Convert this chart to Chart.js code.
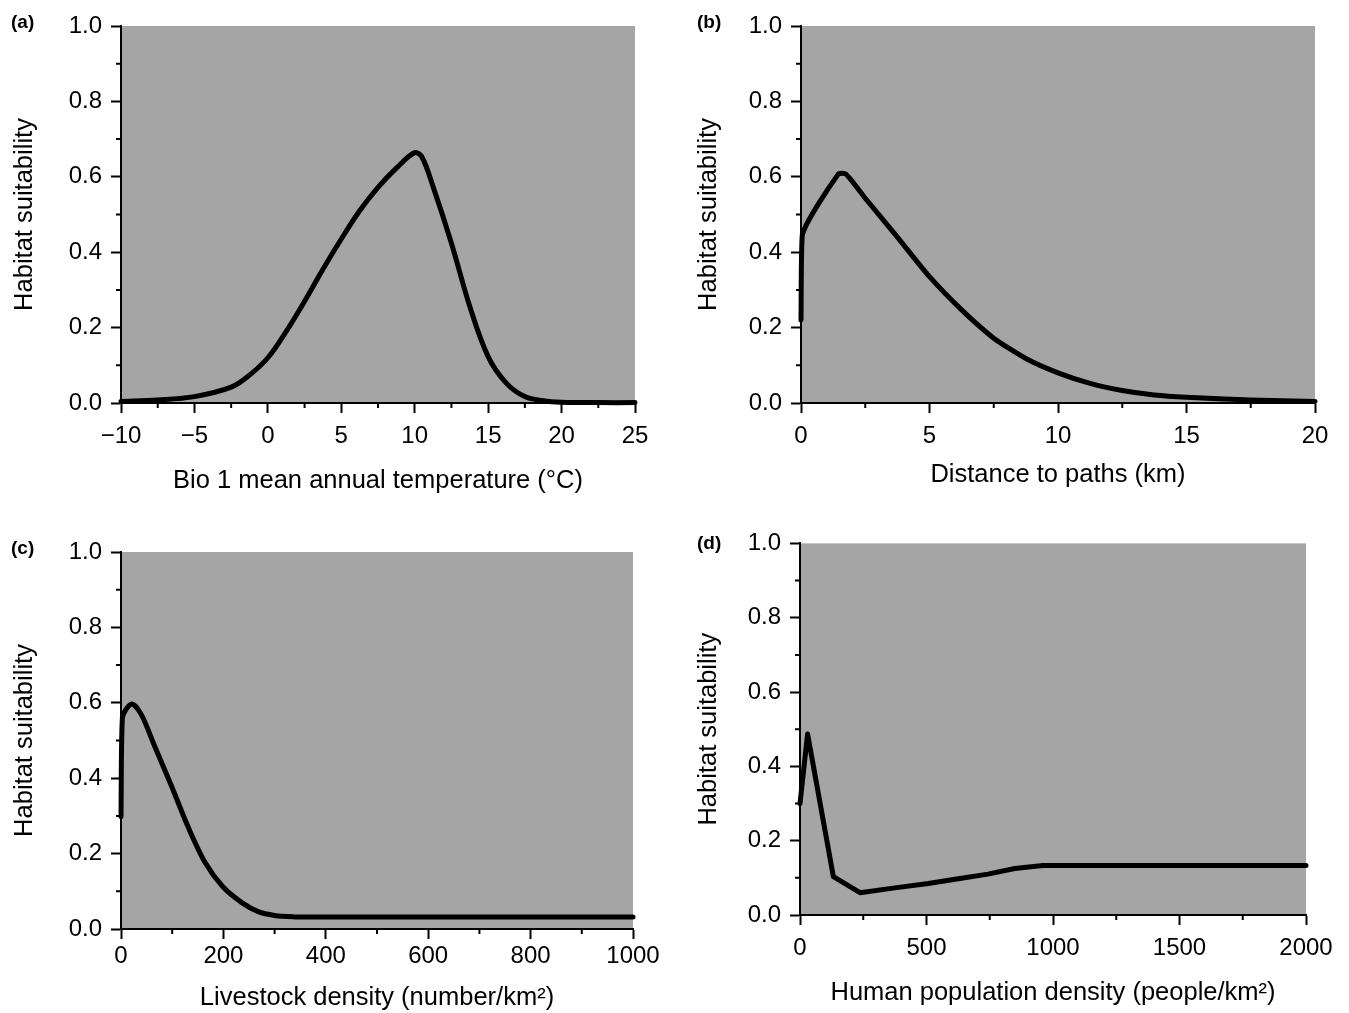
<!DOCTYPE html>
<html>
<head>
<meta charset="utf-8">
<script src="https://cdn.jsdelivr.net/npm/chart.js@4.4.0/dist/chart.umd.min.js"></script>
<style>
    body { margin: 0; background: #fff; width: 1349px; height: 1013px; position: relative; overflow: hidden; }
    canvas { position: absolute; }
</style>
</head>
<body>
<canvas id="chartA" width="675" height="520" style="left:0;top:0"></canvas>
<canvas id="chartB" width="665" height="520" style="left:684px;top:0"></canvas>
<canvas id="chartC" width="675" height="493" style="left:0;top:520px"></canvas>
<canvas id="chartD" width="665" height="493" style="left:684px;top:520px"></canvas>
<script>
// ===== DATA =====
const tempX = [-10, -7.5, -5, -2.5, -1.25, 0, 1.25, 2.5, 3.75, 5, 6.25, 7.5, 8.75, 10, 10.5, 11.25, 12.5, 13.75, 15, 16.25, 17.5, 18.75, 20, 22.5, 25];
const tempY = [0.004, 0.008, 0.017, 0.042, 0.074, 0.12, 0.19, 0.27, 0.355, 0.435, 0.51, 0.572, 0.623, 0.664, 0.652, 0.574, 0.424, 0.256, 0.123, 0.052, 0.017, 0.006, 0.002, 0.001, 0.001];

const pathX = [0, 0.05, 1.45, 1.75, 2.5, 3.75, 5, 6.25, 7.5, 8.75, 10, 11.25, 12.5, 13.75, 15, 17.5, 20];
const pathY = [0.22, 0.446, 0.607, 0.607, 0.543, 0.44, 0.335, 0.247, 0.172, 0.118, 0.08, 0.052, 0.033, 0.021, 0.015, 0.008, 0.004];

const livestockX = [0, 2.6, 20.8, 40, 66, 99, 131, 164, 199, 236, 268, 300, 340, 360, 1000];
const livestockY = [0.298, 0.559, 0.597, 0.568, 0.484, 0.378, 0.271, 0.177, 0.112, 0.07, 0.046, 0.036, 0.032, 0.032, 0.032];

const humanX = [0, 30, 132, 237, 375, 507, 638, 743, 849, 960, 2000];
const humanY = [0.3, 0.487, 0.103, 0.06, 0.073, 0.085, 0.099, 0.11, 0.125, 0.133, 0.133];

const suitTicks = [0, 0.2, 0.4, 0.6, 0.8, 1.0];
const suitMinor = [0.1, 0.3, 0.5, 0.7, 0.9];
const tempTicks = [-10, -5, 0, 5, 10, 15, 20, 25];
const tempMinor = [-7.5, -2.5, 2.5, 7.5, 12.5, 17.5, 22.5];
const pathTicks = [0, 5, 10, 15, 20];
const pathMinor = [2.5, 7.5, 12.5, 17.5];
const livestockTicks = [0, 200, 400, 600, 800, 1000];
const livestockMinor = [100, 300, 500, 700, 900];
const humanTicks = [0, 500, 1000, 1500, 2000];
const humanMinor = [250, 750, 1250, 1750];

const FONT = "'Liberation Sans', Arial, sans-serif";

// ===== PLUGINS =====
const plotBackground = {
    id: 'plotBackground',
    beforeDraw(chart) {
        const {ctx, chartArea: a} = chart;
        ctx.save();
        ctx.fillStyle = '#a5a5a5';
        ctx.fillRect(a.left, a.top, a.right - a.left, a.bottom - a.top);
        ctx.restore();
    }
};

const minorTicks = {
    id: 'minorTicks',
    afterDraw(chart, args, opts) {
        const {ctx, chartArea: a, scales} = chart;
        ctx.save();
        ctx.strokeStyle = '#000';
        ctx.lineWidth = 2;
        ctx.beginPath();
        (opts.x || []).forEach(function (v) {
            const px = scales.x.getPixelForValue(v);
            ctx.moveTo(px, a.bottom);
            ctx.lineTo(px, a.bottom + 5);
        });
        (opts.y || []).forEach(function (v) {
            const py = scales.y.getPixelForValue(v);
            ctx.moveTo(a.left, py);
            ctx.lineTo(a.left - 5, py);
        });
        ctx.stroke();
        ctx.restore();
    }
};

const panelLabel = {
    id: 'panelLabel',
    afterDraw(chart, args, opts) {
        const ctx = chart.ctx;
        ctx.save();
        ctx.fillStyle = '#000';
        ctx.font = 'bold 19px ' + FONT;
        ctx.textBaseline = 'alphabetic';
        ctx.fillText(opts.text, opts.x, opts.y);
        ctx.restore();
    }
};

// ===== CHART BUILDER =====
function buildChart(canvasId, xs, ys, p) {
    const points = xs.map(function (x, i) { return {x: x, y: ys[i]}; });

    return new Chart(document.getElementById(canvasId), {
        type: 'line',
        data: {
            datasets: [{
                data: points,
                borderColor: '#000',
                borderWidth: 5,
                pointRadius: 0,
                fill: false,
                tension: p.tension,
                borderJoinStyle: 'round',
                borderCapStyle: 'round',
                clip: false
            }]
        },
        options: {
            responsive: false,
            animation: false,
            events: [],
            layout: {
                padding: {left: 0, top: p.top, right: p.right, bottom: p.bottom}
            },
            plugins: {
                legend: {display: false},
                tooltip: {enabled: false},
                minorTicks: {x: p.xMinor, y: suitMinor},
                panelLabel: {text: p.label, x: p.labelX, y: p.labelY}
            },
            scales: {
                x: {
                    type: 'linear',
                    min: p.xTicks[0],
                    max: p.xTicks[p.xTicks.length - 1],
                    afterBuildTicks: function (s) { s.ticks = p.xTicks.map(function (v) { return {value: v}; }); },
                    afterFit: function (s) { s.height = p.xHeight; },
                    border: {display: true, color: '#000', width: 2},
                    grid: {drawOnChartArea: false, tickLength: 10, tickWidth: 2, color: '#000'},
                    ticks: {
                        color: '#000',
                        font: {family: FONT, size: 24},
                        padding: p.xPad,
                        maxRotation: 0,
                        autoSkip: false,
                        callback: function (v) { return v < 0 ? '\u2212' + Math.abs(v) : String(v); }
                    },
                    title: {
                        display: true,
                        text: p.xTitle,
                        color: '#000',
                        font: {family: FONT, size: 25.5, lineHeight: 1.2},
                        padding: {top: 0, bottom: 0}
                    }
                },
                y: {
                    min: 0,
                    max: 1,
                    afterBuildTicks: function (s) { s.ticks = suitTicks.map(function (v) { return {value: v}; }); },
                    afterFit: function (s) { s.width = p.yWidth; },
                    border: {display: true, color: '#000', width: 2},
                    grid: {drawOnChartArea: false, tickLength: 10, tickWidth: 2, color: '#000'},
                    ticks: {
                        color: '#000',
                        font: {family: FONT, size: 24},
                        padding: 9,
                        callback: function (v) { return v.toFixed(1); }
                    },
                    title: {
                        display: true,
                        text: 'Habitat suitability',
                        color: '#000',
                        font: {family: FONT, size: 25.5, lineHeight: 1.2},
                        padding: {top: 10, bottom: 0}
                    }
                }
            }
        },
        plugins: [plotBackground, minorTicks, panelLabel]
    });
}

// ===== PANELS =====
buildChart('chartA', tempX, tempY, {
    tension: 0.35, label: '(a)', labelX: 11, labelY: 28,
    xTicks: tempTicks, xMinor: tempMinor, xTitle: 'Bio 1 mean annual temperature (\u00B0C)',
    top: 26, right: 40, bottom: 23.7, xHeight: 93.3, yWidth: 121, xPad: 9
});

buildChart('chartB', pathX, pathY, {
    tension: 0.2, label: '(b)', labelX: 13, labelY: 28,
    xTicks: pathTicks, xMinor: pathMinor, xTitle: 'Distance to paths (km)',
    top: 26, right: 34, bottom: 29.7, xHeight: 87.3, yWidth: 117, xPad: 9
});

buildChart('chartC', livestockX, livestockY, {
    tension: 0.3, label: '(c)', labelX: 11, labelY: 34,
    xTicks: livestockTicks, xMinor: livestockMinor, xTitle: 'Livestock density (number/km\u00B2)',
    top: 32, right: 42, bottom: 0, xHeight: 84, yWidth: 121, xPad: 3
});

buildChart('chartD', humanX, humanY, {
    tension: 0, label: '(d)', labelX: 13, labelY: 29,
    xTicks: humanTicks, xMinor: humanMinor, xTitle: 'Human population density (people/km\u00B2)',
    top: 23, right: 43, bottom: 4.7, xHeight: 93.3, yWidth: 116, xPad: 9
});
</script>
</body>
</html>
